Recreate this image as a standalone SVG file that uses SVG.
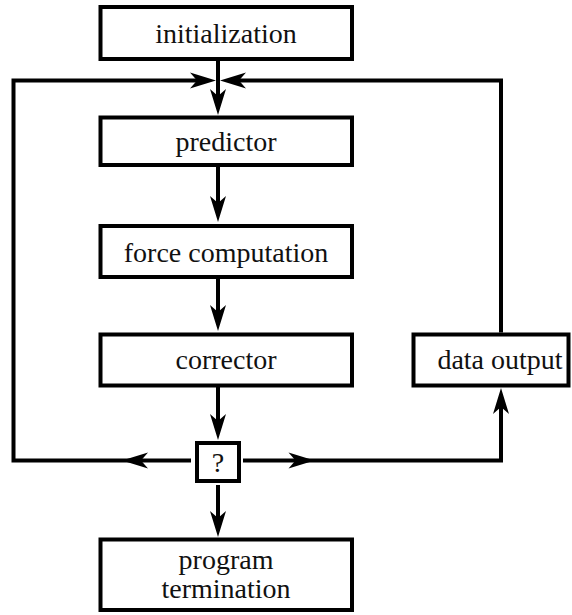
<svg xmlns="http://www.w3.org/2000/svg" width="572" height="615" viewBox="0 0 572 615">
  <style>
    .box { fill: #fff; stroke: #000; stroke-width: 4; }
    .lbl { font-family: 'Liberation Serif', 'DejaVu Serif', serif; font-size: 28px; fill: #111; text-anchor: middle; }
    .con { fill: none; stroke: #000; stroke-width: 4; stroke-linejoin: miter; stroke-linecap: butt; }
    .arr { marker-end: url(#ah); }
  </style>
  <defs>
    <marker id="ah" markerUnits="userSpaceOnUse" orient="auto" viewBox="-28 -10 30 20" refX="-14" refY="0" markerWidth="30" markerHeight="20">
      <path d="M0,0 L-26,-8 L-19,0 L-26,8 Z" fill="#000"/>
    </marker>
  </defs>
  <rect width="572" height="615" fill="#fff"/>

  <g id="connectors">
    <path class="con arr" d="M218,61 V101"/>
    <path class="con arr" d="M218,167 V208"/>
    <path class="con arr" d="M218,279 V317"/>
    <path class="con arr" d="M218,387 V426"/>
    <path class="con arr" d="M218,485 V523"/>
    <path class="con arr" d="M191,460.5 H136"/>
    <path class="con arr" d="M136,460.5 H13.5 V80.5 H202"/>
    <path class="con arr" d="M243,460.5 H300.5"/>
    <path class="con arr" d="M300.5,460.5 H501 V402"/>
    <path class="con arr" d="M501,332.5 V80.5 H234"/>
  </g>

  <g id="initialization">
    <rect class="box" x="100.5" y="7" width="251.5" height="52"/>
    <text class="lbl" x="226" y="43" font-family="Liberation Serif, serif">initialization</text>
  </g>
  <g id="predictor">
    <rect class="box" x="100.5" y="117.5" width="251.5" height="47.5"/>
    <text class="lbl" x="226" y="151" font-family="Liberation Serif, serif">predictor</text>
  </g>
  <g id="force-computation">
    <rect class="box" x="100.5" y="226" width="251.5" height="51"/>
    <text class="lbl" x="226" y="261.5" font-family="Liberation Serif, serif">force computation</text>
  </g>
  <g id="corrector">
    <rect class="box" x="100.5" y="334.5" width="251.5" height="51"/>
    <text class="lbl" x="226" y="369" font-family="Liberation Serif, serif">corrector</text>
  </g>
  <g id="data-output">
    <rect class="box" x="413.5" y="334.5" width="155" height="51"/>
    <text class="lbl" x="500" y="369" font-family="Liberation Serif, serif">data output</text>
  </g>
  <g id="decision">
    <rect class="box" x="197" y="443" width="42" height="38"/>
    <text class="lbl" x="218" y="472" font-family="Liberation Serif, serif">?</text>
  </g>
  <g id="program-termination">
    <rect class="box" x="100.5" y="539.5" width="251.5" height="70.5"/>
    <text class="lbl" x="226" y="569" font-family="Liberation Serif, serif">program</text>
    <text class="lbl" x="226" y="598" font-family="Liberation Serif, serif">termination</text>
  </g>
</svg>
